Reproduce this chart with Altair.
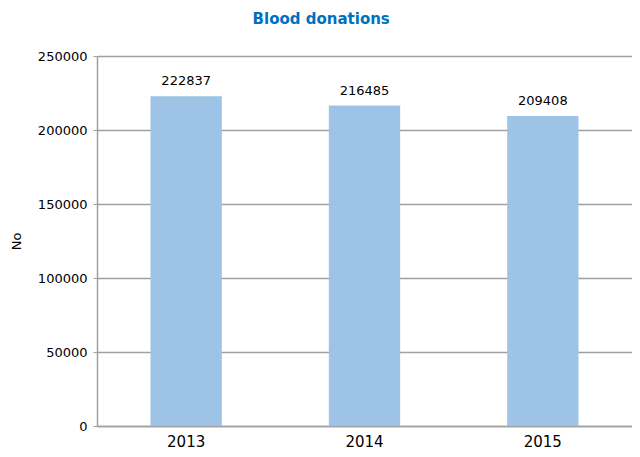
import altair as alt
import pandas as pd

years = ["2013", "2014", "2015"]
donations = [222837, 216485, 209408]

df = pd.DataFrame({"year": years, "value": donations})

base = alt.Chart(df).encode(
    x=alt.X("year:N", title=None, sort=years,
            scale=alt.Scale(paddingInner=0.6, paddingOuter=0.3),
            axis=alt.Axis(labelAngle=0, ticks=False, domainColor="#A0A0A0", domainWidth=1.5,
                          labelFont="DejaVu Sans", labelFontSize=15, labelColor="#000000",
                          labelPadding=8, grid=False)),
    y=alt.Y("value:Q", title="No",
            scale=alt.Scale(domain=[0, 250000]),
            axis=alt.Axis(values=[0, 50000, 100000, 150000, 200000, 250000], format="d",
                          gridColor="#A0A0A0", gridWidth=1.5, domainColor="#A0A0A0", domainWidth=1.5,
                          tickColor="#A0A0A0", tickSize=4, labelPadding=6,
                          labelFont="DejaVu Sans", labelFontSize=13, labelColor="#000000",
                          titleFont="DejaVu Sans", titleFontSize=13, titleFontWeight="normal",
                          titleColor="#000000", titlePadding=14)),
)

bars = base.mark_bar(color="#9DC3E6")
labels = base.mark_text(dy=-15, font="DejaVu Sans", fontSize=13, color="#000000").encode(
    text=alt.Text("value:Q", format="d"))

chart = (bars + labels).properties(
    width=535, height=370,
    autosize=alt.AutoSizeParams(type="none"),
    padding={"left": 89, "top": 48, "right": 0, "bottom": 23},
    title=alt.TitleParams("Blood donations", font="DejaVu Sans", fontSize=15, fontWeight="bold",
                          color="#0070C0", anchor="middle", frame="bounds", offset=23),
).configure_view(stroke=None)

chart.save("out.html", embed_options={"renderer": "svg", "actions": False})
